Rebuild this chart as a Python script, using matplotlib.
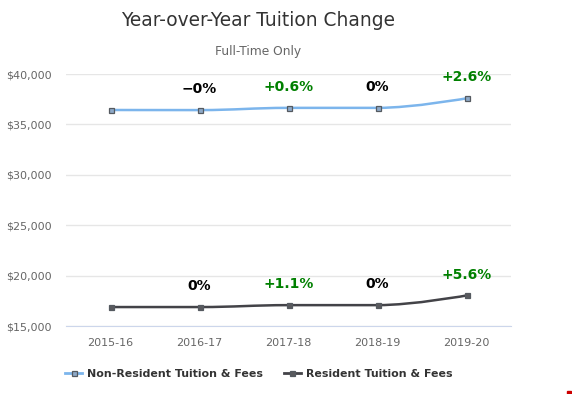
import numpy as np
import matplotlib
matplotlib.use("Agg")
import matplotlib.pyplot as plt
from matplotlib.path import Path
from matplotlib.patches import PathPatch, Rectangle
from matplotlib.lines import Line2D
from matplotlib.ticker import FuncFormatter

years = ["2015-16", "2016-17", "2017-18", "2018-19", "2019-20"]
non_resident = [36430, 36420, 36640, 36640, 37590]
resident = [16880, 16880, 17070, 17070, 18030]
non_res_labels = ["", "\u22120%", "+0.6%", "0%", "+2.6%"]
res_labels = ["", "0%", "+1.1%", "0%", "+5.6%"]

NONRES_COLOR = "#7cb5ec"
RES_COLOR = "#434348"
GREEN = "#008000"


def spline_path(xs, ys, smoothing=1.5):
    # highcharts style spline control points
    verts = [(xs[0], ys[0])]
    codes = [Path.MOVETO]
    n = len(xs)
    right = [(xs[0], ys[0])]
    left = [None]
    for i in range(1, n):
        x, y = xs[i], ys[i]
        lx, ly = xs[i - 1], ys[i - 1]
        if i < n - 1:
            nx, ny = xs[i + 1], ys[i + 1]
            d = smoothing + 1
            lcx = (smoothing * x + lx) / d
            lcy = (smoothing * y + ly) / d
            rcx = (smoothing * x + nx) / d
            rcy = (smoothing * y + ny) / d
            corr = (rcy - lcy) * (rcx - x) / (rcx - lcx) + y - rcy
            lcy += corr
            rcy += corr
            if lcy > ly and lcy > y:
                lcy = max(ly, y)
                rcy = 2 * y - lcy
            elif lcy < ly and lcy < y:
                lcy = min(ly, y)
                rcy = 2 * y - lcy
            if rcy > ny and rcy > y:
                rcy = max(ny, y)
                lcy = 2 * y - rcy
            elif rcy < ny and rcy < y:
                rcy = min(ny, y)
                lcy = 2 * y - rcy
            left.append((lcx, lcy))
            right.append((rcx, rcy))
        else:
            left.append((x, y))
            right.append((x, y))
    for i in range(1, n):
        verts += [right[i - 1], left[i], (xs[i], ys[i])]
        codes += [Path.CURVE4] * 3
    return Path(verts, codes)


fig = plt.figure(figsize=(5.72, 3.94), dpi=100)
ax = fig.add_axes([66 / 572, 1 - 326 / 394, 445 / 572, 252 / 394])

x = np.arange(len(years))
for vals, color, mfc in [(non_resident, NONRES_COLOR, "#8ea9c8"),
                         (resident, RES_COLOR, "#5a5a5e")]:
    ax.add_patch(PathPatch(spline_path(list(x), vals), fill=False,
                           edgecolor=color, lw=1.8, zorder=3))
    ax.plot(x, vals, ls="none", marker="s", ms=3.6, mfc=mfc,
            mec="#555a60", mew=0.9, zorder=4)

for vals, labels in [(non_resident, non_res_labels), (resident, res_labels)]:
    for xi, v, lab in zip(x, vals, labels):
        if not lab:
            continue
        col = GREEN if lab.startswith("+") else "black"
        ax.annotate(lab, (xi, v), xytext=(0, 10), textcoords="offset points",
                    ha="center", va="bottom", fontsize=10, fontweight="bold",
                    color=col, zorder=5)

ax.set_xlim(-0.5, len(years) - 0.5)
ax.set_ylim(15000, 40000)
ax.set_yticks(range(15000, 40001, 5000))
ax.yaxis.set_major_formatter(FuncFormatter(lambda v, p: f"${v:,.0f}"))
ax.set_xticks(x)
ax.set_xticklabels(years)
ax.grid(axis="y", color="#e6e6e6", lw=1)
ax.set_axisbelow(True)
for s in ["top", "right", "left"]:
    ax.spines[s].set_visible(False)
ax.spines["bottom"].set_color("#ccd6eb")
ax.tick_params(axis="y", length=0, pad=10, labelsize=8, labelcolor="#666666")
ax.tick_params(axis="x", length=0, pad=9, labelsize=8, labelcolor="#666666")

fig.text(258 / 572, 1 - 20 / 394, "Year-over-Year Tuition Change", ha="center",
         va="center", fontsize=13.4, color="#333333")
fig.text(258 / 572, 1 - 51 / 394, "Full-Time Only", ha="center", va="center",
         fontsize=8.8, color="#666666")

handles = [Line2D([], [], color=NONRES_COLOR, lw=2, marker="s", ms=3.6,
                  mfc="#8ea9c8", mec="#555a60", mew=0.9),
           Line2D([], [], color=RES_COLOR, lw=2, marker="s", ms=3.6,
                  mfc="#5a5a5e", mec="#555a60", mew=0.9)]
leg = fig.legend(handles, ["Non-Resident Tuition & Fees", "Resident Tuition & Fees"],
                 loc="center", bbox_to_anchor=(259 / 572, 1 - 374 / 394), ncol=2,
                 frameon=False, handlelength=1.5, handletextpad=0.5,
                 columnspacing=1.9, prop={"size": 7.9, "weight": "bold"})
for t in leg.get_texts():
    t.set_color("#333333")

# small red mark in the bottom right corner of the original
fig.patches.append(Rectangle((567 / 572, 0), 4 / 572, 3 / 394,
                             transform=fig.transFigure, color="#cc0000"))

fig.savefig("out.png", dpi=100)
